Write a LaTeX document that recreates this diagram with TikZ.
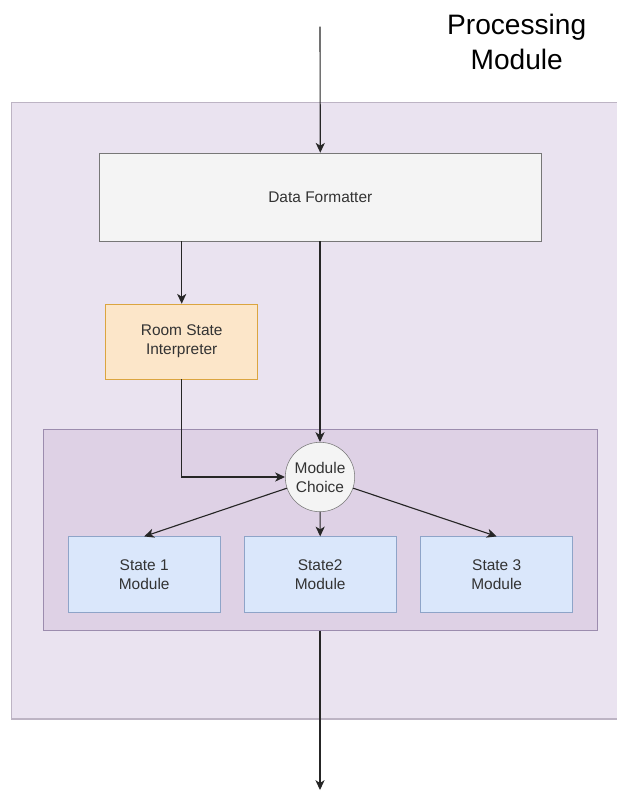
\documentclass[tikz,border=0pt]{standalone}
\usepackage{fontspec}
\setmainfont{Liberation Sans}
\usepackage{tikz}
\usetikzlibrary{arrows.meta}
\definecolor{outerfill}{HTML}{EAE3F0}
\definecolor{outerdraw}{HTML}{BDB4C4}
\definecolor{groupfill}{HTML}{DED1E5}
\definecolor{groupdraw}{HTML}{9C8CAE}
\definecolor{greyfill}{HTML}{F4F4F4}
\definecolor{greydraw}{HTML}{777777}
\definecolor{roomfill}{HTML}{FCE6C9}
\definecolor{roomdraw}{HTML}{DBA540}
\definecolor{statefill}{HTML}{DAE7FB}
\definecolor{statedraw}{HTML}{8EA4C8}
\definecolor{textgrey}{HTML}{333333}
\tikzset{
    boxtext/.style={align=center,text=textgrey,font=\fontsize{11}{13.5}\selectfont},
    formatbox/.style={boxtext,draw=greydraw,fill=greyfill,minimum width=11.025cm,minimum height=2.2cm},
    roombox/.style={boxtext,draw=roomdraw,fill=roomfill,minimum width=3.8cm,minimum height=1.875cm},
    statebox/.style={boxtext,draw=statedraw,fill=statefill,minimum width=3.8cm,minimum height=1.89cm},
    choice/.style={boxtext,circle,draw=greydraw,fill=greyfill,minimum size=1.735cm,inner sep=0pt},
    group/.style={draw=groupdraw,fill=groupfill,minimum width=13.85cm,minimum height=5.02cm},
    flow/.style={-{Stealth[length=7pt,width=6.5pt,inset=2pt]},line width=0.8pt,draw=black!85}
}

\begin{document}
\begin{tikzpicture}[x=0.025cm,y=-0.025cm]
    \useasboundingbox (0,0) rectangle (617,791);
    % outer container
    \draw[outerdraw,fill=outerfill,line width=0.8pt] (11.7,102.3) rectangle (640,719);
    \node[group] (stategroup) at (320.3,530.1) {};

    \node[align=center,font=\fontsize{20}{25}\selectfont] (title) at (516.7,42) {Processing\\Module};

    \node[formatbox] (formatter) at (320.3,197) {Data Formatter};
    \node[roombox] (interp) at (181.7,341.5) {Room State\\Interpreter};
    \node[choice] (choice) at (320,477) {Module\\Choice};
    \node[statebox] (state1) at (144.2,574.5) {State 1\\Module};
    \node[statebox] (state2) at (320.2,574.5) {State2\\Module};
    \node[statebox] (state3) at (496.7,574.5) {State 3\\Module};

    \coordinate (input) at (320,26.7);
    \coordinate (output) at (320,790);

    \draw[flow] (input) -- (formatter.north);
    \draw[flow] (formatter.south -| interp.north) -- (interp.north);
    \draw[flow] (formatter.south -| choice.north) -- (choice.north);
    \draw[flow] (interp.south) |- (choice.west);
    \draw[flow] (choice) -- (state1.north);
    \draw[flow] (choice) -- (state2.north);
    \draw[flow] (choice) -- (state3.north);
    \draw[flow] (stategroup.south -| output) -- (output);
\end{tikzpicture}
\end{document}
